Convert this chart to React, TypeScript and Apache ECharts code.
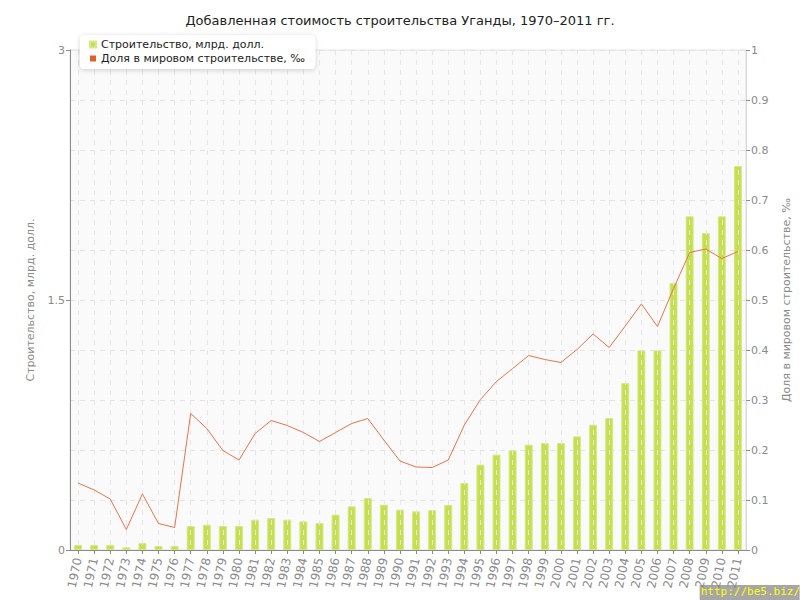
import React, { useEffect, useRef } from "react";
import * as echarts from "echarts";

const years = [
  "1970","1971","1972","1973","1974","1975","1976","1977","1978","1979",
  "1980","1981","1982","1983","1984","1985","1986","1987","1988","1989",
  "1990","1991","1992","1993","1994","1995","1996","1997","1998","1999",
  "2000","2001","2002","2003","2004","2005","2006","2007","2008","2009",
  "2010","2011",
];

const construction = [
  0.03, 0.03, 0.03, 0.016, 0.042, 0.024, 0.024, 0.144, 0.152, 0.144,
  0.144, 0.182, 0.192, 0.182, 0.172, 0.162, 0.212, 0.262, 0.312, 0.272,
  0.242, 0.232, 0.24, 0.27, 0.402, 0.512, 0.572, 0.598, 0.632, 0.642,
  0.642, 0.682, 0.752, 0.792, 1.002, 1.198, 1.198, 1.602, 2.002, 1.902,
  2.002, 2.304,
];

const worldShare = [
  0.134, 0.12, 0.102, 0.041, 0.112, 0.053, 0.045, 0.273, 0.243, 0.199,
  0.18, 0.233, 0.259, 0.249, 0.235, 0.217, 0.235, 0.253, 0.263, 0.22,
  0.178, 0.166, 0.165, 0.18, 0.25, 0.301, 0.337, 0.363, 0.389, 0.381,
  0.375, 0.401, 0.432, 0.405, 0.448, 0.492, 0.447, 0.523, 0.595, 0.602,
  0.583, 0.597,
];

const leftTicks = { min: 0, max: 3, interval: 1.5 };
const rightTicks = { min: 0, max: 1, interval: 0.1 };

const titleText = "Добавленная стоимость строительства Уганды, 1970–2011 гг.";
const barName = "Строительство, млрд. долл.";
const lineName = "Доля в мировом строительстве, ‰";
const watermark = "http://be5.biz/";

const FONT = "DejaVu Sans, Verdana, sans-serif";

export default function App() {
  const ref = useRef<HTMLDivElement>(null);
  useEffect(() => {
    if (!ref.current) return;
    const chart = echarts.init(ref.current, undefined, { renderer: "svg" });
    chart.setOption({
      animation: false,
      backgroundColor: "#ffffff",
      textStyle: { fontFamily: FONT },
      title: {
        text: titleText,
        left: "center",
        top: 9,
        textStyle: { fontSize: 13, fontWeight: "normal", color: "#222", fontFamily: FONT },
      },
      legend: {
        orient: "vertical",
        left: 80,
        top: 35,
        icon: "rect",
        itemWidth: 6,
        itemHeight: 6,
        itemGap: 3,
        padding: [4, 10, 5, 9],
        backgroundColor: "#ffffff",
        borderRadius: 4,
        shadowBlur: 5,
        shadowColor: "rgba(0,0,0,0.18)",
        shadowOffsetY: 1,
        textStyle: { fontSize: 11, color: "#222", fontFamily: FONT },
        data: [barName, lineName],
      },
      grid: {
        left: 70,
        right: 50,
        top: 50,
        bottom: 50,
        show: true,
        backgroundColor: "#fafafa",
        borderColor: "#e2e2e2",
        borderWidth: 1,
      },
      xAxis: {
        type: "category",
        data: years,
        boundaryGap: true,
        z: 3,
        axisLine: { lineStyle: { color: "#8c8c8c" } },
        axisTick: { show: true, alignWithLabel: true, length: 4, lineStyle: { color: "#8c8c8c" } },
        axisLabel: {
          rotate: 78,
          interval: 0,
          color: "#8a8a8a",
          fontSize: 12,
          margin: 8,
          fontFamily: FONT,
        },
        splitLine: {
          show: true,
          alignWithLabel: true,
          lineStyle: { color: "#e6e6e6", type: [5, 5], width: 1 },
        },
      },
      yAxis: [
        {
          type: "value",
          ...leftTicks,
          position: "left",
          name: barName,
          nameLocation: "middle",
          nameGap: 34,
          nameTextStyle: { color: "#8a8a8a", fontSize: 11, fontFamily: FONT },
          axisLine: { show: true, lineStyle: { color: "#8c8c8c" } },
          axisTick: { show: true, length: 4, lineStyle: { color: "#8c8c8c" } },
          axisLabel: { color: "#8a8a8a", fontSize: 11, margin: 5, fontFamily: FONT },
          splitLine: { show: false },
        },
        {
          type: "value",
          ...rightTicks,
          position: "right",
          name: lineName,
          nameLocation: "middle",
          nameGap: 35,
          nameRotate: 90,
          nameTextStyle: { color: "#8a8a8a", fontSize: 11, fontFamily: FONT },
          axisLine: { show: true, lineStyle: { color: "#d8d8d8" } },
          axisTick: { show: true, length: 4, lineStyle: { color: "#8c8c8c" } },
          axisLabel: { color: "#8a8a8a", fontSize: 11, margin: 5, fontFamily: FONT },
          splitLine: { show: true, lineStyle: { color: "#e4e4e4", type: [5, 5] } },
        },
      ],
      series: [
        {
          name: barName,
          type: "bar",
          yAxisIndex: 0,
          data: construction,
          barWidth: 8,
          itemStyle: { color: "#c6df4e", borderColor: "#d6e98a", borderWidth: 1 },
          z: 2,
        },
        {
          name: lineName,
          type: "line",
          yAxisIndex: 1,
          data: worldShare,
          symbol: "none",
          lineStyle: { color: "#e8744a", width: 1 },
          itemStyle: { color: "#e2602e" },
          z: 5,
        },
      ],
      graphic: [
        {
          type: "group",
          right: 0,
          bottom: 0,
          children: [
            { type: "rect", shape: { x: 0, y: 0, width: 100, height: 15 }, style: { fill: "#a6a6a6" } },
            {
              type: "text",
              x: 1,
              y: 1,
              style: {
                text: watermark,
                fill: "#ffff00",
                font: "11px 'DejaVu Sans Mono', monospace",
              },
            },
          ],
        },
      ],
    });
    return () => chart.dispose();
  }, []);
  return (
    <div
      ref={ref}
      style={{ position: "fixed", left: 0, top: 0, width: 800, height: 600 }}
    />
  );
}
